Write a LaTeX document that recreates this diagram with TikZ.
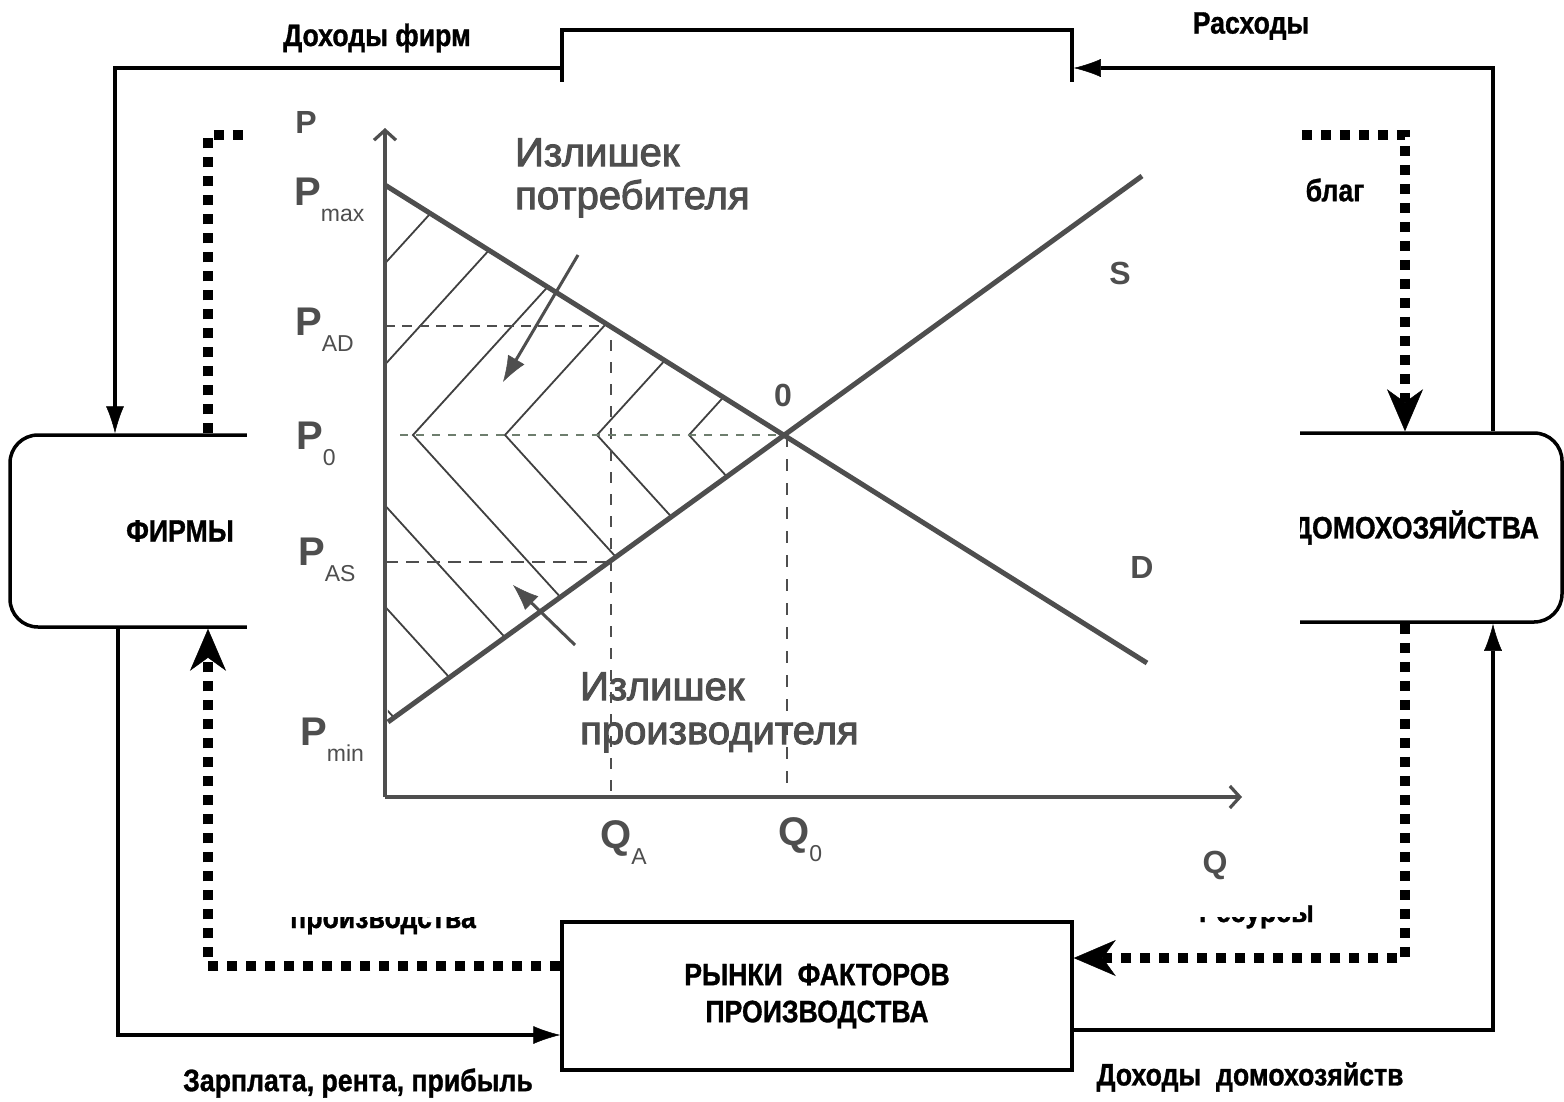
\documentclass[tikz,border=0pt]{standalone}
\usepackage{fontspec}
\setmainfont{Liberation Sans}
\newfontfamily\labfont{Liberation Sans}[FakeStretch=0.86,FakeBold=1]
\newfontfamily\gfont{Liberation Sans}[FakeBold=2.5]
\usetikzlibrary{arrows.meta}
\definecolor{gr}{HTML}{4E4E4E}
\definecolor{grg}{HTML}{6E7E6E}
\newcommand\PL[2]{{\bfseries\fontsize{40}{40}\selectfont #1}\raisebox{-16pt}{\fontsize{23}{23}\selectfont #2}}
\begin{document}
\begin{tikzpicture}[x=1pt,y=-1pt,
  flow/.style={line width=3.5pt,black},
  farrow/.style={flow,-{Latex[length=27pt,width=18pt,line width=0.5pt]}},
  dots/.style={line width=10pt,dash pattern=on 10pt off 9pt},
  darrow/.style={dots,-{Stealth[length=42pt,width=36pt,inset=13pt,line width=0.5pt]}},
  box/.style={draw,line width=3.5pt,inner sep=0pt},
  lab/.style={font=\labfont\bfseries\fontsize{31}{37}\selectfont,inner sep=0pt},
  glab/.style={text=gr,inner sep=0pt},
  axisl/.style={line width=3.2pt,draw=gr,-{Straight Barb[length=10pt,width=22pt]}},
  curve/.style={line width=5pt,draw=gr},
  hatch/.style={line width=1.8pt,draw=black!75},
  sarrow/.style={line width=3pt,draw=gr,-{Latex[length=26pt,width=19pt,line width=0.5pt]}},
  sfont/.style={glab,font=\gfont\fontsize{40}{40}\selectfont,anchor=base west},
  cfont/.style={glab,font=\bfseries\fontsize{32}{32}\selectfont}
]
\fill[white] (0,0) rectangle (1564,1101);
\useasboundingbox (0,0) rectangle (1564,1101);

% ---------- circular flow ----------
\node[box,minimum width=510pt,minimum height=150pt] (goods) at (817,105) {};
\node[box,lab,rounded corners=28pt,minimum width=340pt,minimum height=192pt] (firms) at (180,531) {ФИРМЫ};
\node[box,lab,rounded corners=28pt,minimum width=292pt,minimum height=189pt] (house) at (1416,527.5) {ДОМОХОЗЯЙСТВА};
\node[box,lab,align=center,minimum width=510pt,minimum height=148pt] (factor) at (817,996) {РЫНКИ\ \ ФАКТОРОВ\\ПРОИЗВОДСТВА};

\coordinate (c1) at (115,68);
\coordinate (c2) at (1493,68);
\coordinate (c3) at (118,1035);
\coordinate (c4) at (1493,1030);
\coordinate (d1) at (208,135);
\coordinate (d2) at (1405,135);
\coordinate (d3) at (1405,958);
\coordinate (d4) at (208,966);

\draw[farrow] (goods.west |- c1) -| (c1 |- firms.north);
\draw[farrow] (house.north -| c2) |- (goods.east |- c2);
\draw[farrow] (firms.south -| c3) |- (factor.west |- c3);
\draw[farrow] (factor.east |- c4) -| (house.south -| c4);

\draw[dots] (firms.north -| d1) |- (goods.west |- d1);
\draw[darrow] (goods.east |- d2) -| (house.north -| d2);
\draw[darrow] (house.south -| d3) |- (factor.east |- d3);
\draw[darrow] (factor.west |- d4) -| (firms.south -| d4);

\node[lab] (t1) at (377,38) {Доходы фирм};
\node[lab] (t2) at (1251,26) {Расходы};
\node[lab] (t3) at (1335,190) {благ};
\node[lab] (t4) at (358,1083) {Зарплата, рента, прибыль};
\node[lab] (t5) at (1250,1077) {Доходы\ \ домохозяйств};
\node[lab,anchor=base west] (t6) at (290,928) {производства};
\node[lab,anchor=base east] (t7) at (1314,922) {Ресурсы};

% ---------- cover ----------
\fill[white] (247,82) rectangle (1300,917);

% ---------- supply & demand ----------
\coordinate (E) at (784,435);
\begin{scope}
  \clip (385,185) -- (E) -- (385,435) -- cycle;
  \foreach \v in {137,229,321,413,505,597,689}
    \draw[hatch] (\v-300,435+330) -- (\v+300,435-330);
\end{scope}
\begin{scope}
  \clip (385,435) -- (E) -- (388,722) -- cycle;
  \foreach \v in {137,229,321,413,505,597,689}
    \draw[hatch] (\v-300,435-330) -- (\v+300,435+330);
\end{scope}

\draw[gr,line width=1.6pt,dash pattern=on 10pt off 7pt] (385,326) -- (609,326);
\draw[gr,line width=1.6pt,dash pattern=on 11pt off 11pt] (611,340) -- (611,797);
\draw[gr,line width=2.2pt,dash pattern=on 13pt off 8pt] (385,562) -- (609,562);
\draw[grg,line width=1.3pt,dash pattern=on 8pt off 8pt] (400,435) -- (E);
\draw[gr,line width=1.6pt,dash pattern=on 12pt off 12pt] (787,435) -- (787,797);

\draw[axisl] (385,797) -- (385,128);
\draw[axisl] (385,797) -- (1242,797);
\draw[curve] (385,185) -- (1147,663);
\draw[curve] (388,722) -- (1142,176);

\draw[sarrow] (578,255) -- (503,382);
\draw[sarrow] (575,645) -- (513,585);

\node[sfont] (cs1) at (515,166) {Излишек};
\node[sfont] (cs2) at (515,209) {потребителя};
\node[sfont] (ps1) at (580,700) {Излишек};
\node[sfont] (ps2) at (580,744) {производителя};

\node[cfont] (lP) at (306,122) {P};
\node[cfont] (lQ) at (1215,865) {Q};
\node[cfont] (lS) at (1120,273) {S};
\node[cfont] (lD) at (1142,567) {D};
\node[cfont] (lO) at (783,395) {0};

\node[glab,anchor=base west] (pmax) at (294,205) {\PL{P}{max}};
\node[glab,anchor=base west] (pad) at (295,335) {\PL{P}{AD}};
\node[glab,anchor=base west] (p0) at (296,449) {\PL{P}{0}};
\node[glab,anchor=base west] (pas) at (298,565) {\PL{P}{AS}};
\node[glab,anchor=base west] (pmin) at (300,745) {\PL{P}{min}};
\node[glab,anchor=base west] (qa) at (600,848) {\PL{Q}{A}};
\node[glab,anchor=base west] (q0) at (778,845) {\PL{Q}{0}};
\end{tikzpicture}
\end{document}
